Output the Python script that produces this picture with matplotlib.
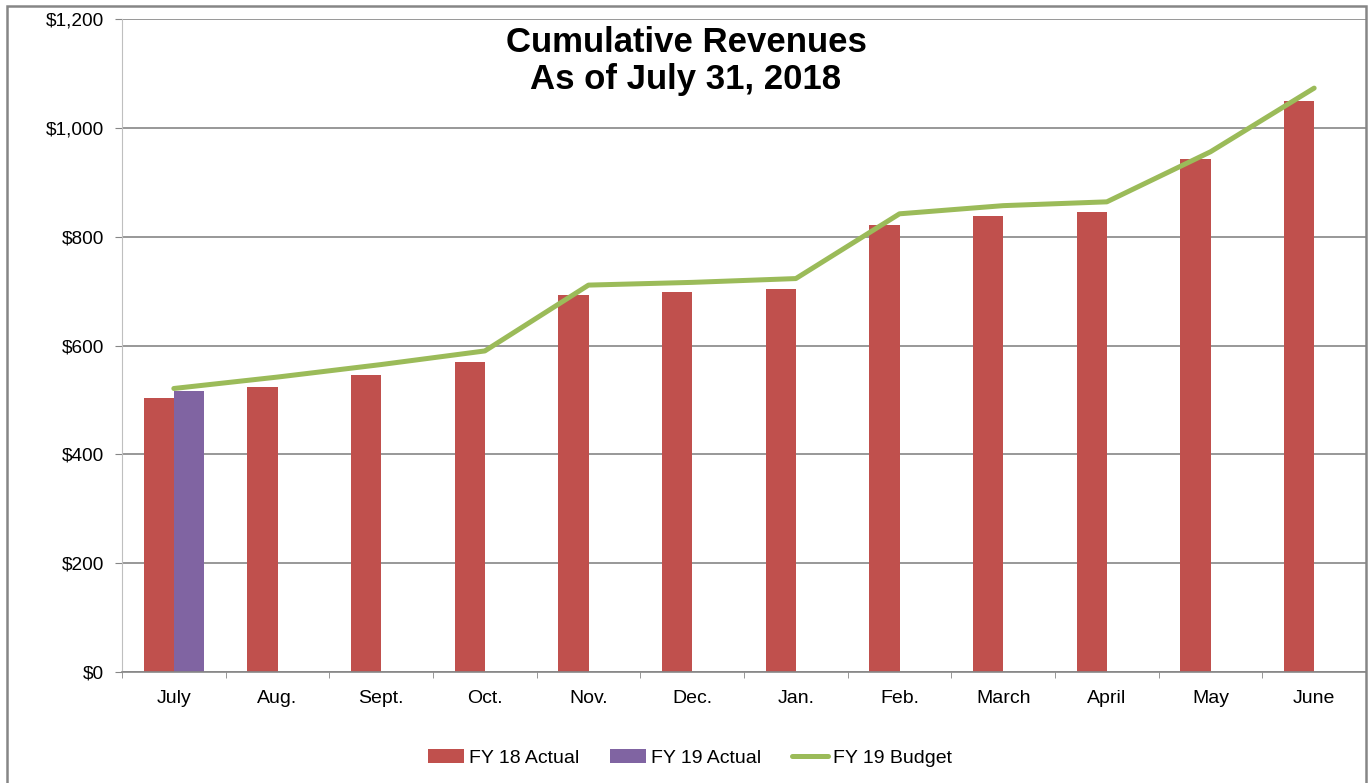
import numpy as np
import matplotlib.pyplot as plt
from matplotlib.patches import Rectangle

# chart data (values in $ thousands)
months = ["July", "Aug.", "Sept.", "Oct.", "Nov.", "Dec.", "Jan.",
          "Feb.", "March", "April", "May", "June"]
fy18_actual = [503, 524, 546, 570, 693, 699, 704, 821, 838, 845, 943, 1049]
fy19_actual = [517]
fy19_budget = [521, 542, 565, 590, 711, 716, 723, 842, 857, 864, 956, 1073]

red = "#C0504D"
purple = "#8064A2"
green = "#9BBB59"
grid_gray = "#868686"

plt.rcParams['font.family'] = ['Liberation Sans', 'DejaVu Sans']

W, H = 1372, 783
fig = plt.figure(figsize=(W / 100, H / 100), dpi=100)
ax = fig.add_axes([122 / W, (H - 672) / H, (1366 - 122) / W, (672 - 19) / H])

x = np.arange(len(months))
bw = 0.29

b18 = ax.bar(x - bw / 2, fy18_actual, width=bw, color=red, zorder=2)
b19 = ax.bar(x[:len(fy19_actual)] + bw / 2, fy19_actual, width=bw, color=purple,
             zorder=2)
ln, = ax.plot(x, fy19_budget, color=green, linewidth=3.6, solid_capstyle='round',
              zorder=3)

ax.set_xlim(-0.5, len(months) - 0.5)
ax.set_ylim(0, 1200)
ax.set_yticks(np.arange(0, 1201, 200))
ax.set_yticklabels(["${:,}".format(v) for v in range(0, 1201, 200)], fontsize=13.7)

ax.set_xticks(x)
ax.set_xticklabels(months, fontsize=14)
ax.tick_params(axis='x', length=0, pad=13)
ax.set_xticks(np.arange(-0.5, len(months), 1), minor=True)
ax.tick_params(axis='x', which='minor', length=4, color=grid_gray, direction='out')
ax.tick_params(axis='y', length=5, color=grid_gray, pad=8)

ax.grid(axis='y', color=grid_gray, linewidth=1.2, zorder=0)
ax.set_axisbelow(True)
for side in ['top', 'right']:
    ax.spines[side].set_visible(False)
ax.spines['left'].set_color("#BFBFBF")
ax.spines['bottom'].set_color(grid_gray)
ax.spines['bottom'].set_linewidth(1.2)

fig.text(686 / W, 1 - 42 / H, "Cumulative Revenues", ha='center', va='center',
         fontsize=25, fontweight='bold')
fig.text(686 / W, 1 - 79 / H, "As of July 31, 2018", ha='center', va='center',
         fontsize=25, fontweight='bold')

fig.legend([b18, b19, ln], ["FY 18 Actual", "FY 19 Actual", "FY 19 Budget"],
           loc='center', bbox_to_anchor=(690 / W, 1 - 758 / H), ncol=3,
           frameon=False, fontsize=14, handlelength=1.85, handletextpad=0.25,
           columnspacing=1.6)

# outer chart border
fig.patches.append(Rectangle((7 / W, -0.05), (1366 - 7) / W, 1.05 - 6 / H,
                             transform=fig.transFigure, fill=False,
                             edgecolor=grid_gray, linewidth=1.8))

fig.savefig("out.png", dpi=100)
